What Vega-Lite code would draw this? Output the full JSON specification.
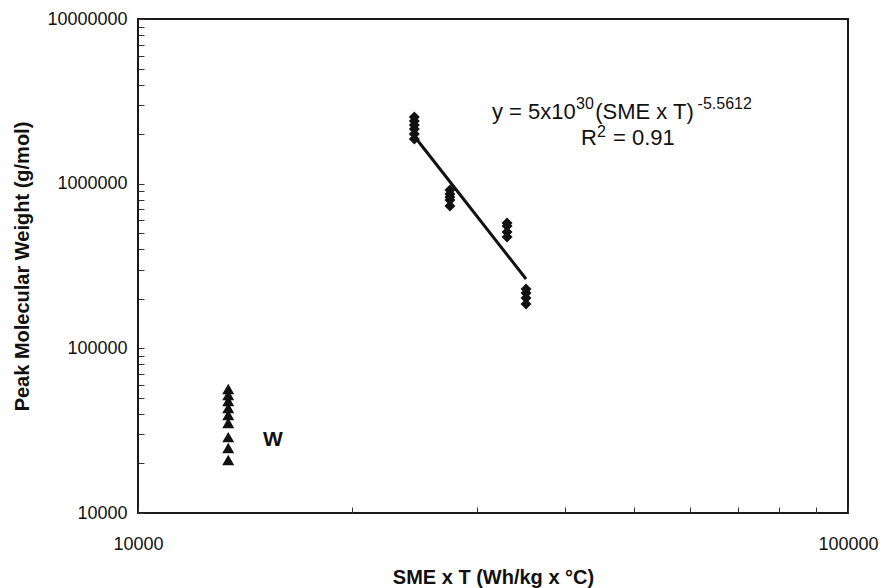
{
  "$schema": "https://vega.github.io/schema/vega-lite/v6.json",
  "autosize": {"type": "none"},
  "width": 710,
  "height": 494,
  "padding": {"left": 138, "top": 19, "right": 32, "bottom": 75},
  "background": "white",
  "config": {
    "view": {"stroke": "#1a1a1a", "strokeWidth": 2},
    "font": "Liberation Sans",
    "axis": {
      "grid": false,
      "domain": false,
      "labelFont": "Liberation Sans",
      "labelFontSize": 18,
      "labelColor": "#111",
      "titleFont": "Liberation Sans",
      "titleFontSize": 20,
      "titleFontWeight": "bold",
      "titleColor": "#111",
      "tickColor": "#333",
      "tickWidth": 1,
      "tickSize": -6,
      "labelOverlap": false,
      "labelFlush": false
    }
  },
  "datasets": {
    "points": [
      {"x": 24500, "y": 2540000, "series": "main"},
      {"x": 24500, "y": 2402000, "series": "main"},
      {"x": 24500, "y": 2271000, "series": "main"},
      {"x": 24500, "y": 2148000, "series": "main"},
      {"x": 24500, "y": 2002000, "series": "main"},
      {"x": 24500, "y": 1868000, "series": "main"},
      {"x": 27500, "y": 915000, "series": "main"},
      {"x": 27500, "y": 865000, "series": "main"},
      {"x": 27500, "y": 830000, "series": "main"},
      {"x": 27500, "y": 796000, "series": "main"},
      {"x": 27500, "y": 732000, "series": "main"},
      {"x": 33100, "y": 577000, "series": "main"},
      {"x": 33100, "y": 553000, "series": "main"},
      {"x": 33100, "y": 509000, "series": "main"},
      {"x": 33100, "y": 474000, "series": "main"},
      {"x": 35200, "y": 229000, "series": "main"},
      {"x": 35200, "y": 217000, "series": "main"},
      {"x": 35200, "y": 202000, "series": "main"},
      {"x": 35200, "y": 186000, "series": "main"},
      {"x": 13400, "y": 56600, "series": "W"},
      {"x": 13400, "y": 52100, "series": "W"},
      {"x": 13400, "y": 47900, "series": "W"},
      {"x": 13400, "y": 43400, "series": "W"},
      {"x": 13400, "y": 39400, "series": "W"},
      {"x": 13400, "y": 35200, "series": "W"},
      {"x": 13400, "y": 28900, "series": "W"},
      {"x": 13400, "y": 24800, "series": "W"},
      {"x": 13400, "y": 21000, "series": "W"}
    ],
    "trend": [
      {"x": 24550, "y": 1920000},
      {"x": 35200, "y": 263700}
    ],
    "mainText": [
      {"x": 31520, "y": 2470000, "t": "y = 5x10"},
      {"x": 44040, "y": 2470000, "t": "(SME x T)"},
      {"x": 42070, "y": 1717000, "t": "R"},
      {"x": 46670, "y": 1717000, "t": "= 0.91"}
    ],
    "supText": [
      {"x": 41390, "y": 2842000, "t": "30"},
      {"x": 61400, "y": 2842000, "t": "-5.5612"},
      {"x": 44310, "y": 1920000, "t": "2"}
    ],
    "label": [
      {"x": 15000, "y": 25530, "t": "W"}
    ]
  },
  "layer": [
    {
      "data": {"name": "points"},
      "mark": {"type": "point", "filled": true, "opacity": 1, "color": "#111"},
      "encoding": {
        "x": {
          "field": "x", "type": "quantitative",
          "scale": {"type": "log", "domain": [10000, 100000], "nice": false},
          "axis": {
            "title": "SME x T (Wh/kg x °C)",
            "values": [10000, 20000, 30000, 40000, 50000, 60000, 70000, 80000, 90000, 100000],
            "labelExpr": "(datum.value == 10000 || datum.value == 100000) ? format(datum.value, 'd') : ''",
            "labelPadding": 28,
            "titlePadding": 14
          }
        },
        "y": {
          "field": "y", "type": "quantitative",
          "scale": {"type": "log", "domain": [10000, 10000000], "nice": false},
          "axis": {
            "title": "Peak Molecular Weight (g/mol)",
            "values": [10000, 20000, 30000, 40000, 50000, 60000, 70000, 80000, 90000, 100000, 200000, 300000, 400000, 500000, 600000, 700000, 800000, 900000, 1000000, 2000000, 3000000, 4000000, 5000000, 6000000, 7000000, 8000000, 9000000, 10000000],
            "labelExpr": "(datum.value == 10000 || datum.value == 100000 || datum.value == 1000000 || datum.value == 10000000) ? format(datum.value, 'd') : ''",
            "labelPadding": 17,
            "titlePadding": 14
          }
        },
        "shape": {
          "field": "series", "type": "nominal",
          "scale": {"domain": ["main", "W"], "range": ["diamond", "triangle-up"]},
          "legend": null
        },
        "size": {
          "field": "series", "type": "nominal",
          "scale": {"domain": ["main", "W"], "range": [120, 144]},
          "legend": null
        }
      }
    },
    {
      "data": {"name": "trend"},
      "mark": {"type": "line", "color": "#111", "strokeWidth": 3},
      "encoding": {
        "x": {"field": "x", "type": "quantitative"},
        "y": {"field": "y", "type": "quantitative"}
      }
    },
    {
      "data": {"name": "mainText"},
      "mark": {"type": "text", "align": "left", "baseline": "alphabetic", "fontSize": 22, "color": "#111"},
      "encoding": {
        "x": {"field": "x", "type": "quantitative"},
        "y": {"field": "y", "type": "quantitative"},
        "text": {"field": "t"}
      }
    },
    {
      "data": {"name": "supText"},
      "mark": {"type": "text", "align": "left", "baseline": "alphabetic", "fontSize": 16, "color": "#111"},
      "encoding": {
        "x": {"field": "x", "type": "quantitative"},
        "y": {"field": "y", "type": "quantitative"},
        "text": {"field": "t"}
      }
    },
    {
      "data": {"name": "label"},
      "mark": {"type": "text", "align": "left", "baseline": "alphabetic", "fontSize": 21, "fontWeight": "bold", "color": "#111"},
      "encoding": {
        "x": {"field": "x", "type": "quantitative"},
        "y": {"field": "y", "type": "quantitative"},
        "text": {"field": "t"}
      }
    }
  ]
}
